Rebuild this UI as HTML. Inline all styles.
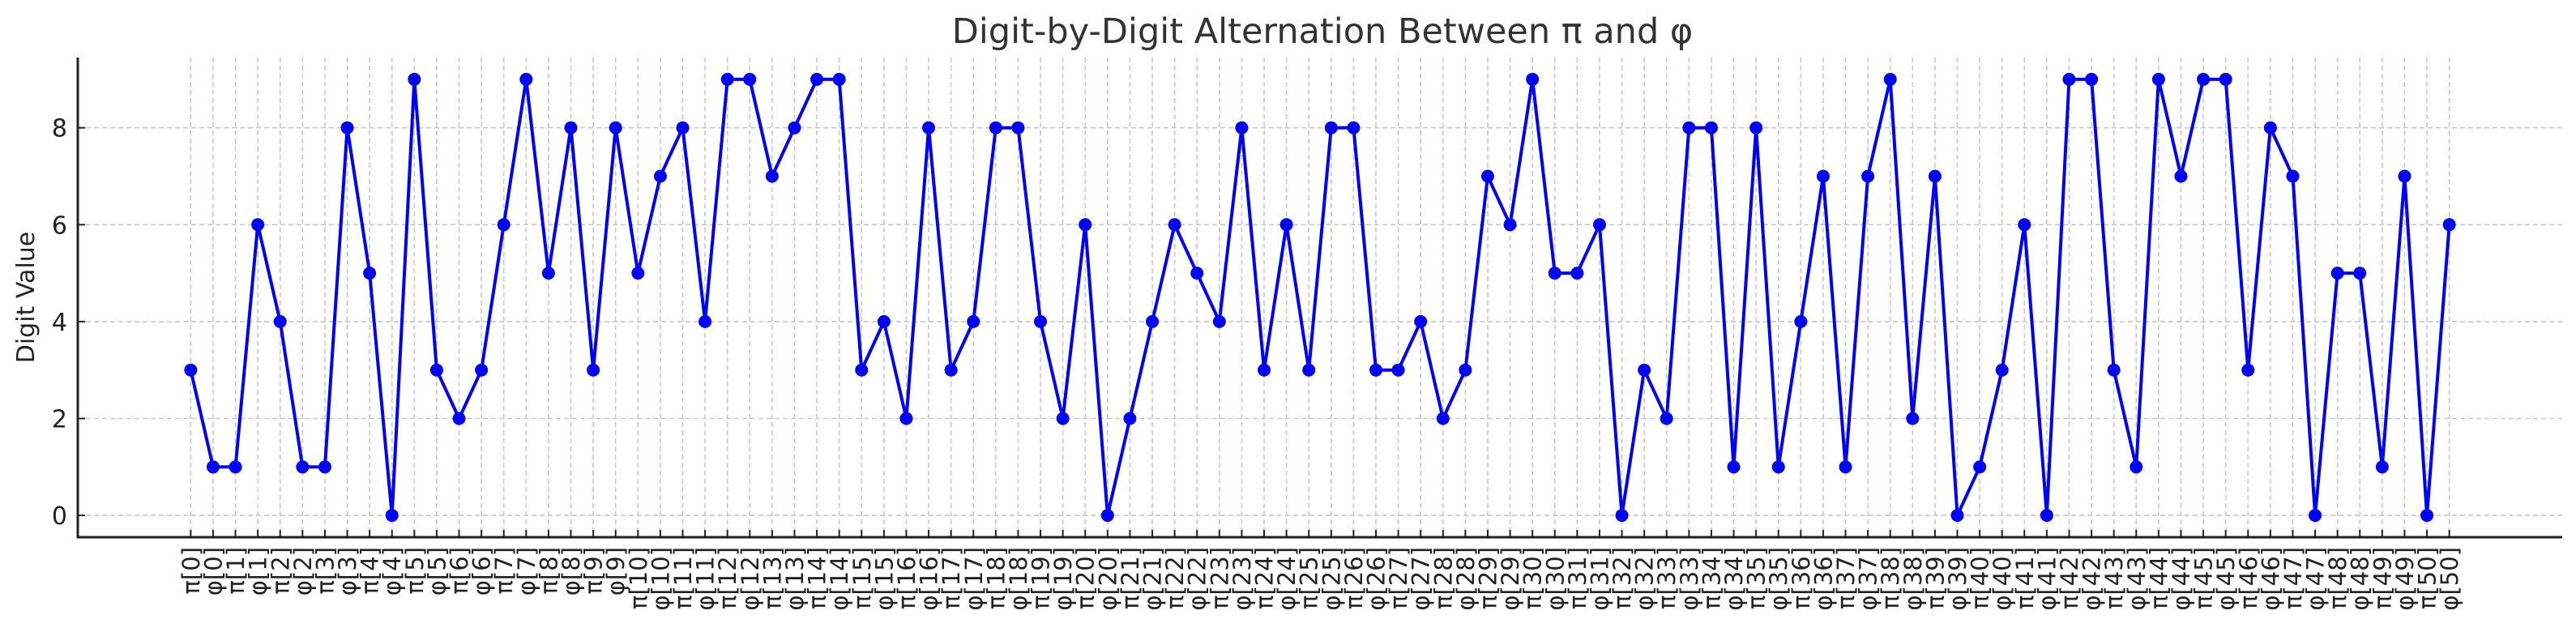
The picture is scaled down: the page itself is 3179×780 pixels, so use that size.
<!DOCTYPE html>
<html><head><meta charset="utf-8"><style>
html,body{margin:0;padding:0;background:#fff;}
svg{display:block;font-family:"DejaVu Sans","Liberation Sans",sans-serif;}
</style></head><body>
<svg id="chart" width="3179" height="780" viewBox="0 0 3179 780" xmlns="http://www.w3.org/2000/svg">
<rect width="3179" height="780" fill="#fff"/>
<text x="1632" y="53" font-size="43" fill="#333" text-anchor="middle">Digit-by-Digit Alternation Between π and φ</text>
<text transform="translate(42,367) rotate(-90)" font-size="30" fill="#222" text-anchor="middle">Digit Value</text>
<g id="grid"></g><g id="axes"></g><g id="series"></g>
</svg>
<script>
const categories = [];
for (let i = 0; i <= 50; i++) { categories.push('π[' + i + ']'); categories.push('φ[' + i + ']'); }
const digitValues = [3,1,1,6,4,1,1,8,5,0,9,3,2,3,6,9,5,8,3,8,5,7,8,4,9,9,7,8,9,9,3,4,2,8,3,4,8,8,4,2,6,0,2,4,6,5,4,8,3,6,3,8,8,3,3,4,2,3,7,6,9,5,5,6,0,3,2,8,8,1,8,1,4,7,1,7,9,2,7,0,1,3,6,0,9,9,3,1,9,7,9,9,3,8,7,0,5,5,1,7,0,6];
const yTicks = [0,2,4,6,8];

const NS = 'http://www.w3.org/2000/svg';
const L = 96, R = 3162, T = 71, B = 663;
const n = categories.length;
const xMin = -0.05 * (n - 1), xMax = (n - 1) * 1.05;
const yMin = -0.45, yMax = 9.45;
function xs(i) { return L + (i - xMin) / (xMax - xMin) * (R - L); }
function ys(v) { return B - (v - yMin) / (yMax - yMin) * (B - T); }
function mk(tag, attrs, parent) {
  const e = document.createElementNS(NS, tag);
  for (const k in attrs) e.setAttribute(k, attrs[k]);
  parent.appendChild(e); return e;
}
const grid = document.getElementById('grid');
const axes = document.getElementById('axes');
const series = document.getElementById('series');

categories.forEach((c, i) => {
  const x = xs(i);
  const g = mk('line', {x1: x, x2: x, y1: T, y2: B, stroke: '#c8c8c8', 'stroke-width': 1.6, 'stroke-dasharray': '6,4'}, grid);
  
  
  const t = mk('line', {x1: x, x2: x, y1: B, y2: B - 9, stroke: '#222', 'stroke-width': 2}, axes);
  
  
  const lb = mk('text', {transform: 'translate(' + (x + 10.5) + ',' + (B + 12) + ') rotate(-90)', 'font-size': 29, fill: '#222', 'text-anchor': 'end'}, axes);
  lb.textContent = c;
  
  
});
yTicks.forEach(v => {
  const y = ys(v);
  const g = mk('line', {x1: L, x2: R, y1: y, y2: y, stroke: '#c8c8c8', 'stroke-width': 1.6, 'stroke-dasharray': '6,4'}, grid);
  
  
  const t = mk('line', {x1: L, x2: L + 9, y1: y, y2: y, stroke: '#222', 'stroke-width': 2}, axes);
  
  
  const lb = mk('text', {x: L - 13, y: y + 11, 'font-size': 30, fill: '#222', 'text-anchor': 'end'}, axes);
  lb.textContent = v;
  
  
});
const la = mk('line', {x1: L, x2: L, y1: T, y2: B + 1.5, stroke: '#222', 'stroke-width': 3}, axes);


const ba = mk('line', {x1: L - 1.5, x2: R, y1: B, y2: B, stroke: '#222', 'stroke-width': 3}, axes);



const pts = digitValues.map((v, i) => xs(i).toFixed(2) + ',' + ys(v).toFixed(2)).join(' ');
const pl = mk('polyline', {points: pts, fill: 'none', stroke: '#0000ff', 'stroke-width': 4, 'stroke-linejoin': 'round'}, series);


digitValues.forEach((v, i) => {
  const c = mk('circle', {cx: xs(i), cy: ys(v), r: 8, fill: '#0000ff'}, series);
  
  
});
</script>
</body></html>
